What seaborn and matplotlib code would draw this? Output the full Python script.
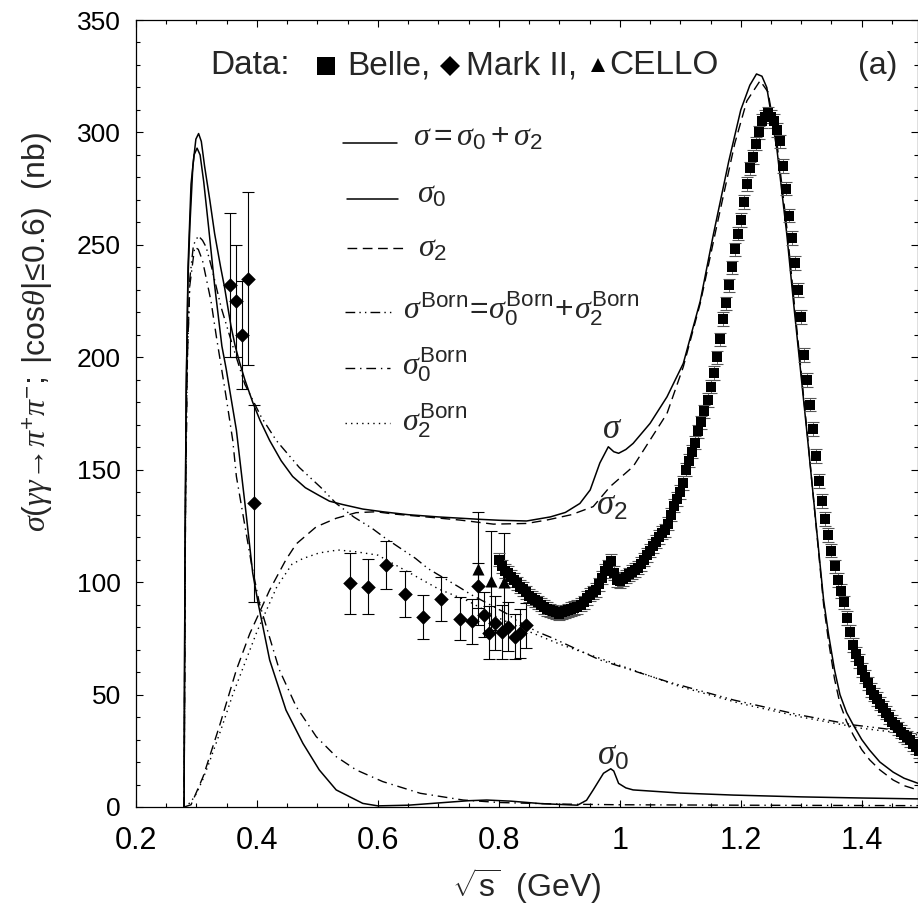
import numpy as np
import matplotlib
matplotlib.use('Agg')
import matplotlib.pyplot as plt
import seaborn as sns
from matplotlib.lines import Line2D
from matplotlib.ticker import MultipleLocator, FixedLocator, FixedFormatter

# ---------------- data ----------------
# total sigma (solid)
sig_x = [0.2795, 0.2800, 0.2810, 0.2830, 0.2860, 0.2890, 0.2940, 0.2990, 0.3035, 0.3080,
         0.3134, 0.3220, 0.3300, 0.3400, 0.3465, 0.3520, 0.3570, 0.3640, 0.3710, 0.3800,
         0.3930, 0.4050, 0.4210, 0.4400, 0.4590, 0.4800, 0.5030, 0.5200, 0.5420, 0.5750,
         0.6080, 0.6500, 0.7000, 0.7640, 0.8020, 0.8460, 0.8850, 0.9100, 0.9340, 0.9510,
         0.9670, 0.9810, 0.9900, 0.9980, 1.0100, 1.0220, 1.0500, 1.0780, 1.1050, 1.1330,
         1.1550, 1.1800, 1.2000, 1.2150, 1.2260, 1.2350, 1.2430, 1.2600, 1.2760, 1.2870,
         1.3100, 1.3370, 1.3450, 1.3550, 1.3640, 1.3750, 1.3860, 1.4000, 1.4130, 1.4300,
         1.4520, 1.4700, 1.4935]
sig_y = [0, 40, 110, 185, 235, 258, 285, 297, 299.5, 296,
         285, 270, 255, 240, 231, 222, 214, 205, 198, 190,
         180, 172, 163, 154, 147, 142, 138.5, 136, 134.5, 132.5,
         131.3, 130, 129, 128, 127.5, 127.2, 129, 131, 135, 141,
         153, 160.2, 158, 157.3, 159, 161.7, 170.6, 182.4, 197.3, 225,
         255, 287, 310, 321, 326, 325, 320, 292, 255, 225,
         165, 92, 77, 61, 50, 42, 36.5, 30, 25.3, 20,
         15.5, 12.8, 10.5]

# sigma_0 (solid)
sig0_x = [0.2795, 0.2800, 0.2810, 0.2830, 0.2860, 0.2910, 0.2960, 0.3010, 0.3060, 0.3120,
          0.3200, 0.3300, 0.3420, 0.3490, 0.3660, 0.3820, 0.3930, 0.4020, 0.4210, 0.4480,
          0.4760, 0.5030, 0.5310, 0.5750, 0.6000, 0.6500, 0.7000, 0.7500, 0.7800, 0.8200,
          0.8700, 0.9300, 0.9450, 0.9560, 0.9730, 0.9850, 0.9900, 0.9980, 1.0100, 1.0220,
          1.1000, 1.1880, 1.3000, 1.4000, 1.4935]
sig0_y = [0, 40, 110, 185, 240, 277, 290, 293, 290, 278,
          258, 232, 205, 195, 167.6, 130.6, 104, 90.6, 65.4, 43.1,
          28.3, 16.5, 7.6, 1.6, 0.5, 0.8, 1.8, 2.8, 3.1, 2.6,
          1.5, 0.8, 3, 7.6, 15, 17, 16, 10.5, 8.5, 7.6,
          6.2, 5.3, 4.5, 4.0, 3.6]

# sigma_2 (dashed)
sig2_x = [0.2795, 0.2910, 0.3110, 0.3380, 0.3660, 0.3880, 0.4210, 0.4480, 0.4650, 0.4980,
          0.5310, 0.5640, 0.5970, 0.6260, 0.6800, 0.7360, 0.7910, 0.8460, 0.8790, 0.9200,
          0.9560, 0.9840, 1.0220, 1.0500, 1.0780, 1.1050, 1.1330, 1.1600, 1.1900, 1.2100,
          1.2320, 1.2450, 1.2600, 1.2760, 1.2870, 1.3100, 1.3370, 1.3450, 1.3550, 1.3640,
          1.3750, 1.3860, 1.4000, 1.4130, 1.4300, 1.4520, 1.4700, 1.4935]
sig2_y = [0, 1, 13.5, 36, 61, 77, 96.5, 110, 117, 124.6,
          128.4, 130.9, 131.3, 130.3, 129, 127.6, 125.8, 126.1, 127.6, 130,
          133.6, 142.5, 151.4, 163.2, 175, 195.8, 224, 258, 295, 314,
          323, 318, 295, 258, 228, 166, 90, 74, 57, 46,
          38, 32, 25.5, 21, 16.5, 12, 9.5, 7.5]

# sigma^Born (dash-dot-dot)
born_x = [0.2795, 0.2805, 0.2820, 0.2850, 0.2890, 0.2950, 0.3030, 0.3100, 0.3160, 0.3250,
          0.3410, 0.3600, 0.3800, 0.4070, 0.4320, 0.4700, 0.5060, 0.5310, 0.5600, 0.5900,
          0.6120, 0.6620, 0.6830, 0.7330, 0.7550, 0.8130, 0.8290, 0.8630, 0.8900, 0.9670,
          1.0780, 1.1880, 1.2980, 1.3860, 1.4935]
born_y = [0, 60, 140, 200, 235, 250, 254, 252, 249, 240,
          222, 205, 188, 173.5, 163, 151, 142, 135, 129, 124,
          119.6, 110.6, 106, 98, 94.3, 86, 83, 78, 75, 65.4,
          55.8, 47.6, 40.9, 36.5, 33]

# sigma_0^Born (dash-dot)
born0_x = [0.2795, 0.2805, 0.2820, 0.2850, 0.2890, 0.2970, 0.3030, 0.3100, 0.3240, 0.3330,
           0.3490, 0.3600, 0.3660, 0.3910, 0.4040, 0.4370, 0.4650, 0.4980, 0.5310, 0.5640,
           0.6080, 0.6700, 0.7410, 0.8000, 0.9000, 1.0000, 1.2000, 1.4935]
born0_y = [0, 60, 140, 200, 232, 249, 248, 243, 225, 209,
           182.4, 163, 147, 108, 90.6, 61, 44.6, 31.3, 22.4, 16.5,
           11.3, 6.1, 3.1, 2.0, 1.3, 1.0, 0.8, 0.6]

# sigma_2^Born (dotted)
born2_x = [0.2795, 0.2900, 0.3000, 0.3100, 0.3200, 0.3400, 0.3600, 0.3800, 0.4000, 0.4330,
           0.4580, 0.4760, 0.5030, 0.5340, 0.5640, 0.6000, 0.6500, 0.7000, 0.7500, 0.8000,
           0.8500, 0.9000, 1.0000, 1.1000, 1.2000, 1.3000, 1.4000, 1.4935]
born2_y = [0, 2, 6, 12, 19, 34, 50, 64, 78, 98,
           108, 110.5, 113, 114.3, 113.5, 112, 104.5, 97, 91.5, 84,
           78, 72.5, 63, 53.5, 46, 40, 35, 32]

# Mark II (diamonds)
mk_x = [0.355, 0.365, 0.376, 0.385, 0.395, 0.554, 0.584, 0.614, 0.645, 0.675, 0.705,
        0.735, 0.755, 0.766, 0.775, 0.784, 0.794, 0.805, 0.815, 0.826, 0.835, 0.845]
mk_y = [232, 225, 210, 235, 135, 99.5, 98, 107.6, 94.7, 84.6, 92.5,
        83.8, 82.7, 98.3, 85.4, 77.6, 81.7, 78, 80.2, 75.7, 77.2, 80.9]
mk_e = [32, 25, 24, 38.5, 44, 13.5, 12.3, 10.8, 10.4, 9.8, 9.8,
        9.7, 10, 10, 10, 12, 12, 12, 11, 10, 11, 10]

# CELLO (triangles)
ce_x = [0.765, 0.787, 0.808]
ce_y = [106, 100.6, 100]
ce_e = [25, 22, 22]

# Belle (squares), 5 MeV bins from 0.800 GeV
belle_x = np.round(np.arange(0.800, 1.4951, 0.005), 3)
belle_y = [110, 107, 105, 104, 102.5, 101, 99.5, 98, 97, 95.5,
           94, 93, 92, 91, 90, 89, 88, 87.5, 87, 86.5,
           86, 86.5, 87, 87.5, 88, 88.5, 89, 90, 91, 93,
           94.5, 95.5, 96.5, 99, 102, 105, 107, 109.5, 104, 101,
           100.5, 101.5, 102.5, 103.5, 104.5, 105.5, 106.5, 108, 110, 112,
           114, 116, 118, 120, 122, 123, 126, 130, 134, 137,
           140, 144, 150, 154, 158, 162, 167, 171, 176, 181,
           187, 193, 200, 208, 217, 224, 232, 240, 248, 255,
           261, 269, 277, 284, 289, 295, 300, 305, 307, 308.5,
           307, 305, 301, 296, 285, 275, 263, 253, 242, 230,
           218, 201, 190, 179, 168, 156, 145, 136, 128, 121,
           114, 107, 101, 96, 91, 84, 78, 72, 68, 65,
           61, 58, 55, 52, 50, 48, 46, 44, 42, 40,
           38, 36.5, 35, 33.5, 32, 31, 29.8, 28, 26.5, 25]
belle_err = 3.0

xticks = [0.2, 0.4, 0.6, 0.8, 1.0, 1.2, 1.4]
xticklabels = ['0.2', '0.4', '0.6', '0.8', '1', '1.2', '1.4']
yticks = [0, 50, 100, 150, 200, 250, 300, 350]
yticklabels = ['0', '50', '100', '150', '200', '250', '300', '350']

# ---------------- styling ----------------
sns.set_theme(style='ticks')
plt.rcParams['font.family'] = ['Liberation Sans', 'DejaVu Sans']
plt.rcParams['mathtext.fontset'] = 'custom'
plt.rcParams['mathtext.rm'] = 'Liberation Sans'
plt.rcParams['mathtext.it'] = 'Liberation Serif:italic'
plt.rcParams['mathtext.bf'] = 'Liberation Sans:bold'
plt.rcParams['mathtext.sf'] = 'Liberation Sans'

W, H = 918, 908
fig = plt.figure(figsize=(W / 100, H / 100), dpi=100)
ax = fig.add_axes([136 / W, 1 - 807 / H, (917.5 - 136) / W, (807 - 20) / H])

def fx(px):
    return px / W

def fy(py):
    return 1 - py / H

K = 'black'
styles = {
    'sig': dict(color=K, lw=1.1, ls='-'),
    'sig0': dict(color=K, lw=1.1, ls='-'),
    'sig2': dict(color=K, lw=1.0, ls=(0, (7, 4))),
    'born': dict(color=K, lw=1.0, ls=(0, (7, 3, 1, 3, 1, 3))),
    'born0': dict(color=K, lw=1.0, ls=(0, (7, 3.5, 1, 3.5))),
    'born2': dict(color=K, lw=1.0, ls=(0, (1, 3))),
}

curves = [('sig', sig_x, sig_y), ('sig0', sig0_x, sig0_y), ('sig2', sig2_x, sig2_y),
          ('born', born_x, born_y), ('born0', born0_x, born0_y), ('born2', born2_x, born2_y)]
for key, xs, ys in curves:
    st = styles[key]
    sns.lineplot(x=xs, y=ys, ax=ax, color=st['color'], linewidth=st['lw'],
                 linestyle=st['ls'], sort=False, estimator=None)

# data points
ax.errorbar(mk_x, mk_y, yerr=mk_e, fmt='none', ecolor=K, elinewidth=0.8, capsize=4.5, capthick=0.8)
ax.errorbar(ce_x, ce_y, yerr=ce_e, fmt='none', ecolor=K, elinewidth=0.8, capsize=4.5, capthick=0.8)
ax.errorbar(belle_x, belle_y, yerr=belle_err, fmt='none', ecolor='#555555', elinewidth=0.6, capsize=4.2, capthick=0.8)
sns.scatterplot(x=mk_x, y=mk_y, ax=ax, marker='D', s=55, color=K, edgecolor=K, linewidth=0, zorder=5)
sns.scatterplot(x=ce_x, y=ce_y, ax=ax, marker='^', s=75, color=K, edgecolor=K, linewidth=0, zorder=5)
sns.scatterplot(x=belle_x, y=belle_y, ax=ax, marker='s', s=52, color=K, edgecolor=K, linewidth=0, zorder=6)

ax.set_xlim(0.2, 0.2 + (917.5 - 135.7) / 605)
ax.set_ylim(0, 350)
ax.xaxis.set_major_locator(FixedLocator(xticks))
ax.xaxis.set_major_formatter(FixedFormatter(xticklabels))
ax.xaxis.set_minor_locator(MultipleLocator(0.05))
ax.yaxis.set_major_locator(FixedLocator(yticks))
ax.yaxis.set_major_formatter(FixedFormatter(yticklabels))
ax.yaxis.set_minor_locator(MultipleLocator(10))
ax.tick_params(which='both', direction='in', top=True, right=True, colors=K, width=0.8)
ax.tick_params(which='major', length=5)
ax.tick_params(which='minor', length=3)
ax.tick_params(axis='x', which='major', labelsize=22, pad=14)
ax.tick_params(axis='y', which='major', labelsize=19, pad=11)
for sp in ax.spines.values():
    sp.set_color(K)
    sp.set_linewidth(0.9)
ax.set_xlabel('')
ax.set_ylabel('')

# axis labels
fig.text(fx(527), fy(886), r'$\sqrt{\mathrm{s}}$  (GeV)', fontsize=23, ha='center', va='center')
fig.text(fx(38), fy(332), r'$\sigma(\gamma\gamma\!\rightarrow\!\pi^{+}\pi^{-};\ |\mathrm{cos}\theta|\!\leq\!0.6)$  (nb)',
         fontsize=23, rotation=90, ha='center', va='center')

# header
hy = 66
fig.text(fx(210), fy(hy), 'Data:', fontsize=24, ha='left', va='center')
fig.add_artist(Line2D([fx(326)], [fy(hy)], transform=fig.transFigure, marker='s', ms=12.5,
                      color=K, mec=K, mew=0, ls='none'))
fig.text(fx(347), fy(hy), 'Belle,', fontsize=24, ha='left', va='center')
fig.add_artist(Line2D([fx(450)], [fy(hy)], transform=fig.transFigure, marker='D', ms=10,
                      color=K, mec=K, mew=0, ls='none'))
fig.text(fx(466), fy(hy), 'Mark II,', fontsize=24, ha='left', va='center')
fig.add_artist(Line2D([fx(598)], [fy(hy - 1)], transform=fig.transFigure, marker='^', ms=10,
                      color=K, mec=K, mew=0, ls='none'))
fig.text(fx(609), fy(hy), 'CELLO', fontsize=24, ha='left', va='center')
fig.text(fx(858), fy(hy), '(a)', fontsize=23, ha='left', va='center')

# legend
leg_rows = [
    ('sig', 343, 397, 143, 413, 146, r'$\sigma=\sigma_{0}+\sigma_{2}$'),
    ('sig0', 347, 398, 199, 417, 202, r'$\sigma_{0}$'),
    ('sig2', 347, 406, 248, 418, 257, r'$\sigma_{2}$'),
    ('born', 345, 393, 312, 403, 318, r'$\sigma^{\mathrm{Born}}\!=\!\sigma_{0}^{\mathrm{Born}}\!+\!\sigma_{2}^{\mathrm{Born}}$'),
    ('born0', 345, 390, 368, 402, 375, r'$\sigma_{0}^{\mathrm{Born}}$'),
    ('born2', 345, 390, 423, 402, 430, r'$\sigma_{2}^{\mathrm{Born}}$'),
]
for key, x0, x1, yl, xt, yt, lab in leg_rows:
    st = styles[key]
    fig.add_artist(Line2D([fx(x0), fx(x1)], [fy(yl), fy(yl)], transform=fig.transFigure,
                          color=st['color'], lw=st['lw'], ls=st['ls']))
    fig.text(fx(xt), fy(yt), lab, fontsize=23, ha='left', va='baseline')

# curve labels
ax.text(0.970, 164, r'$\sigma$', fontsize=25, ha='left', va='baseline')
ax.text(0.961, 130, r'$\sigma_{2}$', fontsize=25, ha='left', va='baseline')
ax.text(0.962, 18.7, r'$\sigma_{0}$', fontsize=25, ha='left', va='baseline')

fig.savefig('out.png', dpi=100)
